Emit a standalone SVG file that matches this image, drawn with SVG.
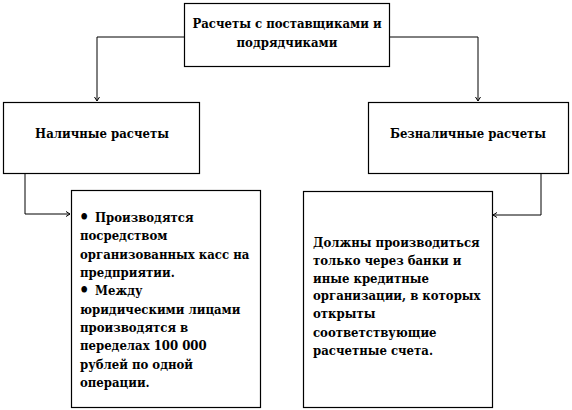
<svg xmlns="http://www.w3.org/2000/svg" width="572" height="410" viewBox="0 0 572 410">
<defs>
<marker id="arr" markerWidth="8" markerHeight="8" refX="6" refY="4" orient="auto" markerUnits="userSpaceOnUse">
<path d="M2,1.5 L6,4 L2,6.5" fill="none" stroke="#000" stroke-width="1"/>
</marker>
</defs>
<style>
.box{fill:#fff;stroke:#000;stroke-width:1.2}
.t{font-family:'DejaVu Serif Condensed','DejaVu Serif',serif;font-stretch:condensed;font-weight:700;font-size:13px;fill:#000}
.b{font-size:18px}
.c{text-anchor:middle}
.ln{fill:none;stroke:#000;stroke-width:1;marker-end:url(#arr)}
</style>
<rect width="572" height="410" fill="#fff"/>
<g id="connectors">
<path class="ln" d="M184,37 H97 V101"/>
<path class="ln" d="M389,37 H478 V101"/>
<path class="ln" d="M25,173 V214 H70"/>
<path class="ln" d="M541,173 V215 H493"/>
</g>
<g id="top">
<rect class="box" x="184.5" y="3.5" width="205" height="63"/>
<text class="t c" x="287" y="28">Расчеты с поставщиками и</text>
<text class="t c" x="287" y="47">подрядчиками</text>
</g>
<g id="cash">
<rect class="box" x="3.5" y="102.5" width="196" height="71"/>
<text class="t c" x="102" y="138">Наличные расчеты</text>
</g>
<g id="noncash">
<rect class="box" x="368.5" y="102.5" width="200" height="71"/>
<text class="t c" x="468" y="138">Безналичные расчеты</text>
</g>
<g id="cash-detail">
<rect class="box" x="71.5" y="190.5" width="189" height="217"/>
<text class="t b" x="79" y="223">•</text>
<text class="t" x="95" y="222">Производятся</text>
<text class="t" x="80" y="240">посредством</text>
<text class="t" x="80" y="259">организованных касс на</text>
<text class="t" x="80" y="277">предприятии.</text>
<text class="t b" x="79" y="296">•</text>
<text class="t" x="95" y="295">Между</text>
<text class="t" x="80" y="314">юридическими лицами</text>
<text class="t" x="80" y="332">производятся в</text>
<text class="t" x="80" y="350">переделах 100 000</text>
<text class="t" x="80" y="369">рублей по одной</text>
<text class="t" x="80" y="387">операции.</text>
</g>
<g id="noncash-detail">
<rect class="box" x="303.5" y="191.5" width="189" height="216"/>
<text class="t" x="313" y="247">Должны производиться</text>
<text class="t" x="313" y="265">только через банки и</text>
<text class="t" x="313" y="283">иные кредитные</text>
<text class="t" x="313" y="300">организации, в которых</text>
<text class="t" x="313" y="318">открыты</text>
<text class="t" x="313" y="337">соответствующие</text>
<text class="t" x="313" y="355">расчетные счета.</text>
</g>
</svg>
